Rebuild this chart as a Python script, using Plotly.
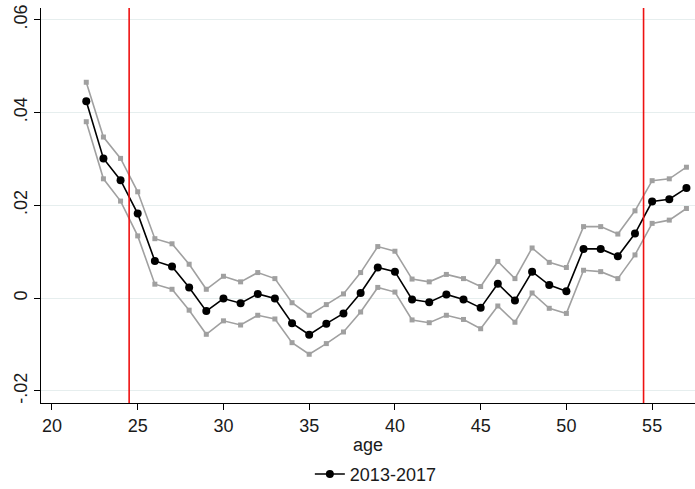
import plotly.graph_objects as go

ages = list(range(22, 58))
est = [0.0424, 0.0301, 0.0254, 0.0182, 0.0080, 0.0068, 0.0023, -0.0028, -0.0001, -0.0011,
       0.0009, -0.0001, -0.0054, -0.0079, -0.0055, -0.0033, 0.0011, 0.0066, 0.0057, -0.0003,
       -0.0009, 0.0008, -0.0003, -0.0021, 0.0031, -0.0005, 0.0057, 0.0028, 0.0015, 0.0106,
       0.0106, 0.0090, 0.0139, 0.0208, 0.0213, 0.0237]
upper = [0.0465, 0.0347, 0.0301, 0.0229, 0.0128, 0.0117, 0.0073, 0.0019, 0.0047, 0.0035,
         0.0055, 0.0042, -0.0010, -0.0037, -0.0014, 0.0009, 0.0055, 0.0111, 0.0101, 0.0041,
         0.0035, 0.0051, 0.0042, 0.0025, 0.0079, 0.0042, 0.0108, 0.0077, 0.0066, 0.0154,
         0.0154, 0.0138, 0.0188, 0.0253, 0.0257, 0.0282]
lower = [0.0380, 0.0257, 0.0209, 0.0134, 0.0030, 0.0019, -0.0026, -0.0078, -0.0049, -0.0058,
         -0.0037, -0.0045, -0.0096, -0.0121, -0.0098, -0.0073, -0.0030, 0.0023, 0.0013, -0.0047,
         -0.0053, -0.0037, -0.0046, -0.0066, -0.0017, -0.0052, 0.0011, -0.0022, -0.0033, 0.0060,
         0.0057, 0.0042, 0.0093, 0.0161, 0.0168, 0.0193]
vlines = [24.5, 54.5]
y_tickvals = [-0.02, 0, 0.02, 0.04, 0.06]
y_ticktext = ["-.02", "0", ".02", ".04", ".06"]
x_tickvals = [20, 25, 30, 35, 40, 45, 50, 55]
series_name = "2013-2017"

fig = go.Figure()
for band in (upper, lower):
    fig.add_trace(go.Scatter(x=ages, y=band, mode="lines+markers",
                             line=dict(color="#a0a0a0", width=1.6),
                             marker=dict(symbol="square", size=5, color="#a0a0a0"),
                             showlegend=False))
fig.add_trace(go.Scatter(x=ages, y=est, mode="lines+markers", name=series_name,
                         line=dict(color="black", width=1.6),
                         marker=dict(symbol="circle", size=8, color="black")))
for v in vlines:
    fig.add_vline(x=v, line=dict(color="#ee1111", width=1.6))

fig.update_layout(
    width=695, height=489,
    margin=dict(l=41, r=0, t=8, b=86, autoexpand=False),
    paper_bgcolor="white", plot_bgcolor="white",
    font=dict(family="Liberation Sans, Arial, sans-serif", size=18, color="#1a1a1a"),
    showlegend=True,
    legend=dict(orientation="h", x=0.512, xanchor="center", yref="container",
                y=0.03, yanchor="middle", font=dict(size=18)),
    xaxis=dict(range=[19.36, 57.5], tickvals=x_tickvals, showgrid=False, zeroline=False,
               showline=True, linecolor="black", linewidth=1.2, ticks="outside",
               ticklen=6, tickcolor="black", automargin=False,
               title=dict(text="age", standoff=3, font=dict(size=18))),
    yaxis=dict(range=[-0.0226, 0.0625], tickvals=y_tickvals, ticktext=y_ticktext,
               tickangle=-90, showgrid=True, gridcolor="#e6eeee", gridwidth=1,
               zeroline=False, showline=True, linecolor="black", linewidth=1.2,
               ticks="outside", ticklen=6, tickcolor="black", automargin=False),
)

fig.write_html("out.html")
